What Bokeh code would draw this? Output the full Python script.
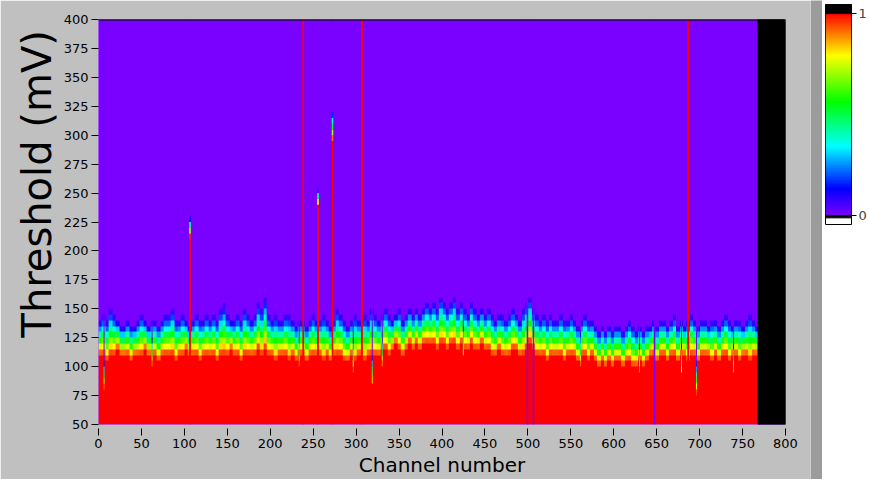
import numpy as np
from bokeh.plotting import figure
from bokeh.layouts import row
from bokeh.models import Range1d, FixedTicker, LinearColorMapper, Span, ColumnDataSource
from bokeh.embed import file_html
from bokeh.resources import INLINE

# ---------------- data ----------------
x_ticks = [0, 50, 100, 150, 200, 250, 300, 350, 400, 450, 500, 550, 600, 650, 700, 750, 800]
y_ticks = [50, 75, 100, 125, 150, 175, 200, 225, 250, 275, 300, 325, 350, 375, 400]
x_max = 800
n_channels = 768
channels_per_group = 4
thr_min, thr_max, thr_step = 50, 400, 5
x_title = "Channel number"
y_title = "Threshold (mV)"

# threshold (mV) where the fully occupied (red) region ends, per group of 4 channels
red_top = [
    110, 110, 105, 110, 110, 115, 110, 110, 110, 105, 110, 110, 110, 115, 110, 110,
    110, 105, 110, 110, 110, 110, 105, 110, 110, 115, 110, 110, 110, 105, 110, 110,
    110, 110, 105, 110, 110, 110, 115, 110, 110, 105, 110, 110, 110, 110, 115, 110,
    115, 110, 110, 105, 110, 110, 110, 105, 110, 105, 110, 110, 105, 110, 110, 110,
    110, 105, 110, 105, 110, 110, 110, 105, 105, 110, 105, 110, 110, 105, 110, 110,
    110, 110, 115, 115, 110, 115, 120, 115, 110, 115, 120, 115, 120, 115, 120, 120,
    120, 120, 115, 120, 120, 115, 120, 120, 115, 120, 115, 115, 120, 115, 115, 120,
    115, 115, 110, 110, 115, 110, 110, 110, 115, 115, 110, 110, 115, 120, 115, 110,
    110, 110, 105, 110, 110, 110, 110, 105, 110, 110, 110, 105, 110, 110, 105, 110,
    105, 100, 105, 100, 105, 100, 105, 105, 100, 105, 105, 100, 100, 105, 100, 105,
    110, 110, 105, 110, 110, 105, 110, 110, 105, 110, 110, 105, 110, 110, 105, 110,
    110, 110, 105, 110, 105, 110, 110, 105, 110, 110, 105, 110, 110, 105, 110, 110,
]
# threshold (mV) where the occupancy reaches zero (violet), per group of 4 channels
band_top = [
    140, 145, 140, 150, 145, 140, 135, 135, 140, 135, 135, 140, 145, 140, 135, 140,
    140, 135, 140, 145, 145, 150, 140, 140, 145, 140, 135, 140, 145, 140, 140, 145,
    140, 145, 140, 150, 155, 145, 140, 140, 145, 140, 150, 145, 140, 145, 155, 150,
    160, 145, 140, 145, 140, 140, 145, 145, 140, 135, 140, 140, 135, 140, 145, 140,
    140, 145, 140, 135, 140, 150, 145, 140, 135, 140, 145, 140, 140, 145, 140, 150,
    145, 140, 145, 150, 145, 140, 145, 150, 140, 145, 150, 145, 150, 145, 150, 155,
    150, 155, 150, 160, 155, 150, 155, 160, 150, 155, 150, 145, 155, 150, 145, 150,
    145, 150, 145, 140, 145, 145, 140, 145, 150, 145, 140, 150, 155, 160, 150, 145,
    140, 145, 140, 145, 140, 140, 145, 140, 140, 145, 140, 135, 140, 145, 140, 140,
    135, 130, 135, 130, 135, 130, 135, 135, 130, 135, 140, 135, 130, 135, 130, 135,
    135, 140, 135, 140, 140, 135, 140, 145, 135, 140, 135, 140, 145, 140, 135, 140,
    140, 135, 140, 140, 135, 140, 145, 140, 135, 140, 140, 135, 140, 145, 140, 135,
]

# single channels whose S-curve sits much lower
dip_channels = [6, 17, 62, 233, 296, 318, 330, 424, 560, 598, 629, 678, 695, 738, 761]
dip_red_top = [80, 93, 100, 100, 95, 83, 100, 108, 100, 85, 95, 92, 76, 94, 96]
dip_band_top = [105, 120, 125, 128, 125, 110, 125, 135, 130, 115, 120, 120, 105, 120, 122]

# single channels whose S-curve sits much higher
spike_channels = [106, 255, 272]
spike_red_top = [212, 240, 295]
spike_band_top = [230, 253, 322]

# always-on and dead channels
hot_channels = [238, 306, 686]
dead_channels = [499, 506, 647]

# ---------------- colour map (LabVIEW-like rainbow) ----------------
stop_pos = [0.0, 0.13, 0.34, 0.56, 0.79, 1.0]
stop_rgb = [(122, 0, 255), (0, 0, 255), (0, 255, 255), (0, 255, 0), (255, 255, 0), (255, 0, 0)]
ramp = np.linspace(0, 1, 256)
palette = []
for t in ramp:
    r = int(round(np.interp(t, stop_pos, [c[0] for c in stop_rgb])))
    g = int(round(np.interp(t, stop_pos, [c[1] for c in stop_rgb])))
    b = int(round(np.interp(t, stop_pos, [c[2] for c in stop_rgb])))
    palette.append("#%02x%02x%02x" % (r, g, b))
mapper = LinearColorMapper(palette=palette, low=0, high=1)

# ---------------- occupancy table ----------------
R = np.repeat(np.array(red_top, float), channels_per_group)
T = np.repeat(np.array(band_top, float), channels_per_group)
for c, r, t in zip(dip_channels, dip_red_top, dip_band_top):
    R[c], T[c] = r, t
for c, r, t in zip(spike_channels, spike_red_top, spike_band_top):
    R[c], T[c] = r, t
row_lo = np.arange(thr_min, thr_max, thr_step)
centers = row_lo + thr_step / 2.0
occ = np.clip((T[None, :] - centers[:, None]) / (T - R)[None, :], 0.0, 1.0)
for c in hot_channels:
    occ[:, c] = 1.0
for c in dead_channels:
    occ[:, c] = 0.0
img = np.repeat(occ, thr_step, axis=0)

# special columns drawn on top as quads so they never get lost in resampling
q = dict(left=[], right=[], bottom=[], top=[], v=[])
for c in spike_channels + hot_channels + dead_channels:
    col = occ[:, c]
    start = 0
    for i in range(1, len(col) + 1):
        if i == len(col) or col[i] != col[start]:
            q["left"].append(c - 0.4)
            q["right"].append(c + 1.4)
            q["bottom"].append(float(row_lo[start]))
            q["top"].append(float(row_lo[i - 1] + thr_step))
            q["v"].append(float(col[start]))
            start = i
src = ColumnDataSource(q)

# ---------------- main figure ----------------
GRAY = "#c0c0c0"
p = figure(width=810, height=479, x_range=Range1d(0, x_max), y_range=Range1d(thr_min, thr_max),
           output_backend="svg", toolbar_location=None, frame_align=False,
           min_border_left=98, min_border_right=25, min_border_top=19, min_border_bottom=55,
           border_fill_color=GRAY, background_fill_color=palette[0], outline_line_color=None)
p.grid.visible = False

p.image(image=[img], x=0, y=thr_min, dw=n_channels, dh=thr_max - thr_min, color_mapper=mapper)
p.quad(left="left", right="right", bottom="bottom", top="top", source=src,
       fill_color={"field": "v", "transform": mapper}, line_color=None)
p.quad(left=[n_channels], right=[x_max], bottom=[thr_min], top=[thr_max], color="black")
p.add_layout(Span(location=thr_max, dimension="width", line_color="black", line_width=2))

p.xaxis.ticker = FixedTicker(ticks=x_ticks)
p.yaxis.ticker = FixedTicker(ticks=y_ticks)
for ax in (p.xaxis, p.yaxis):
    ax.axis_line_color = None
    ax.major_tick_line_color = "black"
    ax.minor_tick_line_color = None
    ax.major_label_text_font = "DejaVu Sans"
    ax.major_label_text_font_size = "13px"
    ax.major_label_text_color = "black"
    ax.axis_label_text_font = "DejaVu Sans"
    ax.axis_label_text_font_style = "normal"
    ax.axis_label_text_color = "black"
p.yaxis.major_tick_in = 0
p.yaxis.major_tick_out = 7
p.yaxis.major_label_standoff = 3
p.xaxis.major_tick_in = -4
p.xaxis.major_tick_out = 11
p.xaxis.major_label_standoff = 3

p.yaxis.axis_label = "\u00a0" * 6 + y_title
p.yaxis.axis_label_text_font_size = "40px"
p.yaxis.axis_label_standoff = 1
p.xaxis.axis_label = x_title
p.xaxis.axis_label_text_font_size = "20px"
p.xaxis.axis_label_standoff = 2

# ---------------- panel edge ----------------
edge = figure(width=12, height=479, x_range=Range1d(0, 1), y_range=Range1d(0, 1),
              output_backend="svg", toolbar_location=None, min_border=0, frame_align=False,
              x_axis_location=None, y_axis_location=None,
              background_fill_color="#9c9c9c", border_fill_color="#9c9c9c", outline_line_color=None)
edge.grid.visible = False

# ---------------- colour bar ----------------
cb = figure(width=47, height=479, x_range=Range1d(0, 1), y_range=Range1d(-0.045, 1.045),
            output_backend="svg", toolbar_location=None, frame_align=False,
            min_border_left=3, min_border_right=16, min_border_top=4, min_border_bottom=255,
            x_axis_location=None, y_axis_location="right",
            background_fill_color="white", border_fill_color="white",
            outline_line_color="black", outline_line_width=1)
cb.grid.visible = False
cb.image(image=[ramp[:, None]], x=0, y=0, dw=1, dh=1, color_mapper=mapper)
cb.quad(left=[0], right=[1], bottom=[1], top=[1.045], color="black")
cb.quad(left=[0], right=[1], bottom=[-0.012], top=[0], color="black")
cb.yaxis.ticker = FixedTicker(ticks=[0, 1])
cb.yaxis.axis_line_color = None
cb.yaxis.major_tick_in = 0
cb.yaxis.major_tick_out = 5
cb.yaxis.major_label_standoff = 2
cb.yaxis.major_label_text_font = "DejaVu Sans"
cb.yaxis.major_label_text_font_size = "13px"
cb.yaxis.minor_tick_line_color = None

layout = row(p, edge, cb)
html = file_html(layout, INLINE)
html = html.replace("<head>", "<head><style>html,body{margin:0;padding:0;}</style>", 1)
open("out.html", "w").write(html)
